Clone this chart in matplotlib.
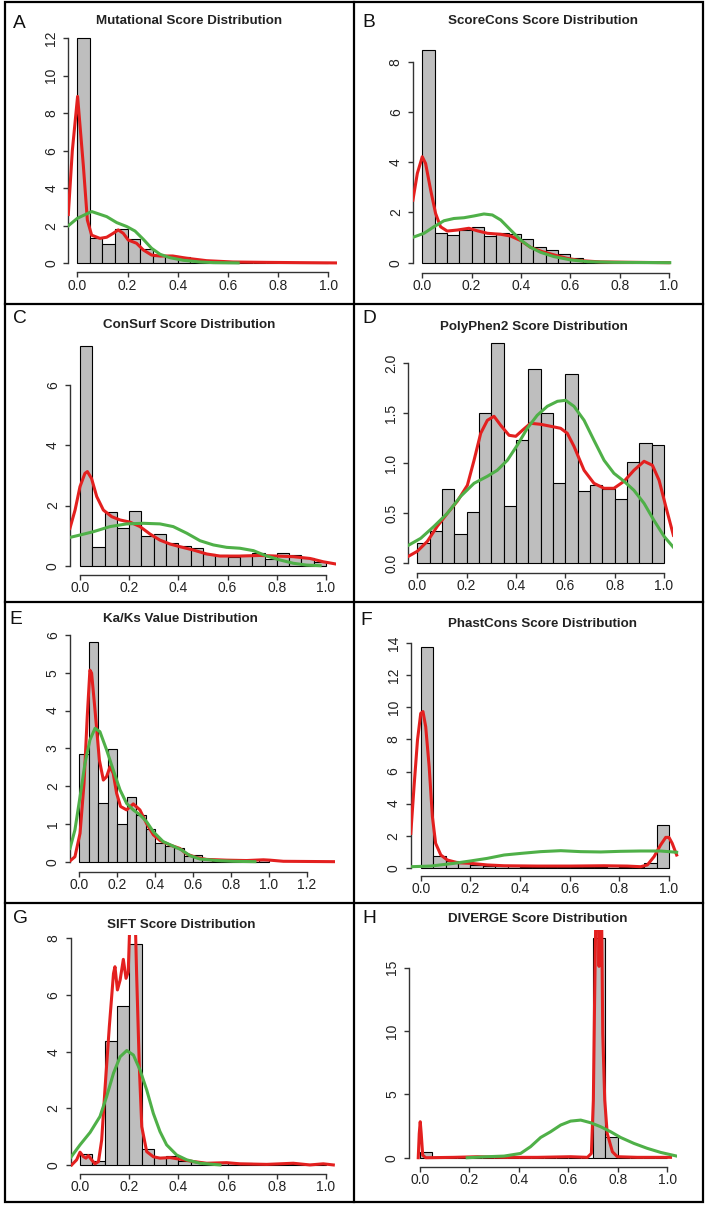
import matplotlib
matplotlib.use('Agg')
import matplotlib.pyplot as plt
from matplotlib.patches import Rectangle
from matplotlib.lines import Line2D

plt.rcParams['font.family'] = ['Liberation Sans', 'DejaVu Sans']

W, H = 708, 1206
RED = '#e3201f'
GREEN = '#4fb048'
GRAY = '#bebebe'

# left edges of the 0.05 wide histogram bins
bin_left = [0.00, 0.05, 0.10, 0.15, 0.20, 0.25, 0.30, 0.35, 0.40, 0.45,
            0.50, 0.55, 0.60, 0.65, 0.70, 0.75, 0.80, 0.85, 0.90, 0.95]

titles = ["Mutational Score Distribution", "ScoreCons Score Distribution",
          "ConSurf Score Distribution", "PolyPhen2 Score Distribution",
          "Ka/Ks Value Distribution", "PhastCons Score Distribution",
          "SIFT Score Distribution", "DIVERGE Score Distribution"]
letters = ["A", "B", "C", "D", "E", "F", "G", "H"]

# ---- A: mutational
mut_hist = [12.0, 1.35, 1.01, 1.81, 1.28, 0.76, 0.41, 0.39, 0.33, 0.18,
            0.10, 0.08, 0.05, 0.04, 0.03, 0.03, 0.02, 0.02, 0.01, 0.01]
mut_red_x = [-0.036, -0.02, 0.001, 0.024, 0.04, 0.057, 0.09, 0.117, 0.143, 0.163, 0.183, 0.203,
             0.236, 0.263, 0.296, 0.33, 0.38, 0.436, 0.515, 0.62, 0.754, 0.887, 1.037]
mut_red_y = [2.6, 6.0, 8.9, 5.2, 2.3, 1.5, 1.33, 1.39, 1.6, 1.78, 1.6, 1.24,
             1.07, 0.71, 0.44, 0.39, 0.39, 0.27, 0.14, 0.07, 0.05, 0.035, 0.02]
mut_green_x = [-0.036, 0.0, 0.057, 0.117, 0.157, 0.197, 0.23, 0.263, 0.296, 0.33,
               0.369, 0.422, 0.489, 0.542, 0.641]
mut_green_y = [2.0, 2.4, 2.76, 2.49, 2.17, 1.96, 1.72, 1.28, 0.8, 0.48,
               0.3, 0.16, 0.07, 0.036, 0.02]

# ---- B: ScoreCons
sc_hist = [8.49, 1.17, 1.10, 1.30, 1.41, 1.06, 1.17, 1.13, 0.94, 0.61,
           0.50, 0.33, 0.20, 0.08, 0.04, 0.02, 0.01, 0.01, 0.01, 0.01]
sc_red_x = [-0.038, -0.02, 0.0, 0.0135, 0.034, 0.054, 0.074, 0.101, 0.142, 0.189, 0.223, 0.264,
            0.318, 0.358, 0.399, 0.439, 0.486, 0.534, 0.588, 0.642, 0.723, 0.83, 1.0]
sc_red_y = [2.49, 3.56, 4.22, 3.95, 2.89, 1.96, 1.43, 1.26, 1.3, 1.37, 1.27, 1.17,
            1.13, 1.06, 0.88, 0.61, 0.44, 0.31, 0.17, 0.08, 0.03, 0.015, 0.0]
sc_green_x = [-0.038, 0.007, 0.047, 0.088, 0.128, 0.169, 0.209, 0.25, 0.284, 0.318,
              0.358, 0.399, 0.439, 0.48, 0.534, 0.601, 0.669, 0.777, 1.003]
sc_green_y = [1.01, 1.17, 1.43, 1.67, 1.76, 1.79, 1.86, 1.94, 1.9, 1.7,
              1.3, 0.9, 0.61, 0.41, 0.24, 0.11, 0.04, 0.013, 0.0]

# ---- C: ConSurf
cs_hist = [7.32, 0.63, 1.80, 1.26, 1.83, 0.99, 1.05, 0.74, 0.65, 0.58,
           0.39, 0.35, 0.30, 0.35, 0.43, 0.21, 0.43, 0.35, 0.27, 0.13]
cs_red_x = [-0.041, -0.02, 0.0, 0.02, 0.03, 0.047, 0.068, 0.095, 0.129, 0.163, 0.203, 0.244,
            0.285, 0.325, 0.366, 0.407, 0.461, 0.515, 0.569, 0.65, 0.732, 0.8, 0.867, 0.935,
            0.989, 1.037]
cs_red_y = [1.24, 1.85, 2.63, 3.07, 3.13, 2.9, 2.3, 1.85, 1.63, 1.52, 1.45, 1.3,
            1.05, 0.85, 0.72, 0.63, 0.52, 0.39, 0.32, 0.32, 0.34, 0.32, 0.3, 0.24,
            0.13, 0.06]
cs_green_x = [-0.041, 0.0, 0.054, 0.122, 0.19, 0.257, 0.325, 0.379, 0.434, 0.488,
              0.542, 0.596, 0.65, 0.705, 0.759, 0.813, 0.867, 0.921, 0.976]
cs_green_y = [0.94, 1.02, 1.13, 1.3, 1.39, 1.41, 1.39, 1.3, 1.08, 0.83,
              0.69, 0.61, 0.58, 0.5, 0.32, 0.19, 0.08, 0.02, 0.0]

# ---- D: PolyPhen2
pp_hist = [0.20, 0.32, 0.74, 0.29, 0.51, 1.50, 2.20, 0.57, 1.23, 1.94,
           1.50, 0.80, 1.89, 0.72, 0.78, 0.74, 0.64, 1.01, 1.20, 1.18]
pp_red_x = [-0.036, 0.0, 0.041, 0.081, 0.122, 0.162, 0.203, 0.23, 0.257, 0.284, 0.311, 0.338,
            0.372, 0.399, 0.426, 0.459, 0.5, 0.541, 0.581, 0.608, 0.635, 0.676, 0.716, 0.757,
            0.797, 0.838, 0.878, 0.919, 0.953, 0.98, 1.007, 1.038]
pp_red_y = [0.07, 0.12, 0.22, 0.37, 0.5, 0.62, 0.78, 1.03, 1.3, 1.43, 1.47, 1.38,
            1.28, 1.27, 1.33, 1.4, 1.39, 1.37, 1.35, 1.3, 1.17, 0.93, 0.8, 0.75,
            0.75, 0.82, 0.93, 1.02, 0.98, 0.83, 0.57, 0.28]
pp_green_x = [-0.036, 0.014, 0.068, 0.122, 0.176, 0.23, 0.284, 0.324, 0.365, 0.405, 0.446, 0.486,
              0.527, 0.568, 0.601, 0.635, 0.676, 0.716, 0.757, 0.797, 0.838, 0.878, 0.919,
              0.959, 1.0, 1.038]
pp_green_y = [0.18, 0.25, 0.37, 0.5, 0.67, 0.8, 0.87, 0.93, 1.03, 1.18, 1.35, 1.48,
              1.57, 1.62, 1.63, 1.57, 1.43, 1.23, 1.03, 0.9, 0.82, 0.73, 0.6,
              0.43, 0.27, 0.16]

# ---- E: Ka/Ks
kk_hist = [2.84, 5.82, 1.54, 2.97, 0.99, 1.70, 1.24, 0.86, 0.49, 0.41,
           0.35, 0.16, 0.18, 0.06, 0.03, 0.02, 0.01, 0.01, 0.0, 0.04]
kk_red_x = [-0.049, -0.023, 0.004, 0.025, 0.042, 0.056, 0.065, 0.083, 0.106, 0.127, 0.144, 0.162,
            0.179, 0.197, 0.218, 0.25, 0.285, 0.32, 0.355, 0.391, 0.426, 0.479, 0.531, 0.567,
            0.619, 0.672, 0.778, 0.883, 0.971, 1.007, 1.077, 1.35]
kk_red_y = [0.02, 0.13, 0.75, 2.07, 3.84, 5.07, 4.99, 4.01, 2.69, 2.16, 2.25, 2.51,
            2.34, 1.81, 1.46, 1.37, 1.53, 1.37, 1.01, 0.71, 0.56, 0.44, 0.35, 0.2,
            0.11, 0.06, 0.04, 0.03, 0.05, 0.04, 0.01, 0.0]
kk_green_x = [-0.049, -0.023, 0.004, 0.03, 0.056, 0.083, 0.109, 0.144, 0.179, 0.215, 0.25, 0.285,
              0.32, 0.355, 0.391, 0.443, 0.496, 0.54, 0.584, 0.637, 0.725, 0.813, 0.927]
kk_green_y = [0.35, 0.84, 1.72, 2.6, 3.22, 3.53, 3.44, 2.96, 2.43, 1.9, 1.54, 1.37,
              1.24, 1.06, 0.79, 0.53, 0.41, 0.31, 0.16, 0.07, 0.03, 0.01, 0.0]

# ---- F: PhastCons
pc_hist = [13.75, 0.73, 0.44, 0.27, 0.17, 0.10, 0.10, 0.08, 0.07, 0.07,
           0.06, 0.06, 0.06, 0.07, 0.07, 0.08, 0.07, 0.06, 0.27, 2.66]
pc_red_x = [-0.04, -0.027, -0.013, 0.0, 0.009, 0.02, 0.034, 0.047, 0.06, 0.081, 0.107, 0.148,
            0.201, 0.268, 0.336, 0.47, 0.604, 0.738, 0.832, 0.886, 0.913, 0.94, 0.966, 0.987,
            1.0, 1.013, 1.031]
pc_red_y = [2.14, 5.05, 7.97, 9.63, 9.74, 8.8, 6.3, 3.18, 1.52, 0.79, 0.48, 0.31,
            0.27, 0.17, 0.12, 0.1, 0.1, 0.12, 0.1, 0.06, 0.17, 0.69, 1.41, 1.89,
            1.89, 1.52, 0.79]
pc_green_x = [-0.04, 0.04, 0.134, 0.201, 0.268, 0.336, 0.403, 0.483, 0.564, 0.644, 0.725, 0.805,
              0.886, 0.966, 1.031]
pc_green_y = [0.06, 0.1, 0.27, 0.42, 0.58, 0.79, 0.89, 1.0, 1.06, 1.0, 0.98, 1.02,
              1.04, 1.04, 0.96]

# ---- G: SIFT
sf_hist = [0.39, 0.14, 4.38, 5.61, 7.79, 0.56, 0.27, 0.32, 0.14, 0.12,
           0.08, 0.06, 0.06, 0.06, 0.04, 0.03, 0.03, 0.03, 0.03, 0.03]
sf_red_x = [-0.034, -0.014, 0.0, 0.014, 0.024, 0.034, 0.047, 0.061, 0.075, 0.088, 0.102, 0.119,
            0.136, 0.142, 0.152, 0.163, 0.176, 0.187, 0.196, 0.206, 0.212, 0.218, 0.225, 0.23,
            0.241, 0.251, 0.271, 0.298, 0.325, 0.366, 0.407, 0.461, 0.515, 0.596, 0.65, 0.759,
            0.867, 0.935, 0.989, 1.03]
sf_red_y = [0.0, 0.18, 0.45, 0.29, 0.24, 0.33, 0.18, 0.04, 0.12, 0.88, 2.76, 4.88,
            6.76, 7.0, 6.18, 6.53, 7.26, 6.59, 6.82, 9.5, 10.0, 9.5, 8.5, 6.76,
            3.47, 1.35, 0.47, 0.29, 0.24, 0.26, 0.2, 0.12, 0.06, 0.08, 0.04, 0.02,
            0.06, 0.0, 0.04, 0.0]
sf_green_x = [-0.04, 0.0, 0.041, 0.081, 0.108, 0.136, 0.163, 0.19, 0.217, 0.244, 0.271, 0.298,
              0.325, 0.352, 0.393, 0.434, 0.488, 0.569]
sf_green_y = [0.24, 0.71, 1.15, 1.71, 2.41, 3.24, 3.82, 4.04, 3.88, 3.35, 2.65, 1.82,
              1.18, 0.71, 0.35, 0.18, 0.06, 0.0]

# ---- H: DIVERGE
dv_hist = [0.47, 0.0, 0.0, 0.0, 0.0, 0.0, 0.0, 0.0, 0.0, 0.0,
           0.0, 0.0, 0.0, 0.0, 17.37, 1.60, 0.0, 0.0, 0.0, 0.0]
dv_red_x = [-0.007, -0.003, 0.001, 0.005, 0.011, 0.023, 0.137, 0.232, 0.34, 0.474, 0.609, 0.677,
            0.693, 0.701, 0.706, 0.713, 0.721, 0.724, 0.728, 0.733, 0.739, 0.747, 0.757, 0.778,
            0.798, 0.879, 1.013]
dv_red_y = [0.0, 1.9, 2.84, 1.9, 0.2, 0.0, 0.03, 0.08, 0.03, 0.03, 0.08, 0.03,
            0.34, 4.55, 12.4, 22.0, 22.0, 15.1, 22.0, 22.0, 9.8, 4.55, 1.92, 0.47,
            0.08, 0.03, 0.03]
dv_green_x = [0.191, 0.272, 0.34, 0.407, 0.447, 0.488, 0.528, 0.569, 0.609, 0.65, 0.69, 0.73,
              0.771, 0.811, 0.865, 0.919, 0.973, 1.038]
dv_green_y = [0.0, 0.08, 0.13, 0.34, 0.87, 1.6, 2.05, 2.58, 2.89, 2.97, 2.76, 2.45,
              2.05, 1.6, 1.13, 0.74, 0.42, 0.13]

ticks_01 = [0.0, 0.2, 0.4, 0.6, 0.8, 1.0]
ticks_012 = [0.0, 0.2, 0.4, 0.6, 0.8, 1.0, 1.2]

panels = [
    dict(hist=mut_hist, red=(mut_red_x, mut_red_y), green=(mut_green_x, mut_green_y),
         xt=ticks_01, yt=[0, 2, 4, 6, 8, 10, 12], fmt='{:d}',
         rect=(68.3, 29.3, 337.3, 272.3), xlim=(-0.036, 1.036), ylim=(-0.48, 12.48),
         tpos=(189, 24), lpos=(13, 28.3)),
    dict(hist=sc_hist, red=(sc_red_x, sc_red_y), green=(sc_green_x, sc_green_y),
         xt=ticks_01, yt=[0, 2, 4, 6, 8], fmt='{:d}',
         rect=(412.9, 40.8, 678.4, 272.7), xlim=(-0.038, 1.038), ylim=(-0.4, 8.84),
         tpos=(542.8, 24), lpos=(362, 26.7)),
    dict(hist=cs_hist, red=(cs_red_x, cs_red_y), green=(cs_green_x, cs_green_y),
         xt=ticks_01, yt=[0, 2, 4, 6], fmt='{:d}',
         rect=(69.9, 336.6, 336.1, 575), xlim=(-0.041, 1.041), ylim=(-0.31, 7.62),
         tpos=(188.7, 328.3), lpos=(12.5, 322.7)),
    dict(hist=pp_hist, red=(pp_red_x, pp_red_y), green=(pp_green_x, pp_green_y),
         xt=ticks_01, yt=[0.0, 0.5, 1.0, 1.5, 2.0], fmt='{:.1f}',
         rect=(408.4, 334.3, 673.4, 572.7), xlim=(-0.036, 1.038), ylim=(-0.094, 2.29),
         tpos=(534, 330), lpos=(362, 322.7)),
    dict(hist=kk_hist, red=(kk_red_x, kk_red_y), green=(kk_green_x, kk_green_y),
         xt=ticks_012, yt=[0, 1, 2, 3, 4, 5, 6], fmt='{:d}',
         rect=(70, 631.2, 335.1, 871.5), xlim=(-0.049, 1.35), ylim=(-0.26, 6.1),
         tpos=(180.7, 621.7), lpos=(9, 624)),
    dict(hist=pc_hist, red=(pc_red_x, pc_red_y), green=(pc_green_x, pc_green_y),
         xt=ticks_01, yt=[0, 2, 4, 6, 8, 10, 12, 14], fmt='{:d}',
         rect=(410.8, 638.5, 678.9, 876), xlim=(-0.04, 1.04), ylim=(-0.52, 14.3),
         tpos=(542.3, 626.7), lpos=(360.5, 625)),
    dict(hist=sf_hist, red=(sf_red_x, sf_red_y), green=(sf_green_x, sf_green_y),
         xt=ticks_01, yt=[0, 2, 4, 6, 8], fmt='{:d}',
         rect=(70.7, 935, 335.3, 1174), xlim=(-0.038, 1.038), ylim=(-0.32, 8.12),
         tpos=(181.3, 928.3), lpos=(13, 923.3)),
    dict(hist=dv_hist, red=(dv_red_x, dv_red_y), green=(dv_green_x, dv_green_y),
         xt=ticks_01, yt=[0, 5, 10, 15], fmt='{:d}',
         rect=(409.1, 929.6, 677.2, 1166.6), xlim=(-0.044, 1.04), ylim=(-0.7, 18.0),
         tpos=(537.8, 921.7), lpos=(362, 922.7)),
]


def px_rect(l, t, r, b):
    return [l / W, 1 - b / H, (r - l) / W, (b - t) / H]


fig = plt.figure(figsize=(W / 100, H / 100), dpi=100)

for i, p in enumerate(panels):
    ax = fig.add_axes(px_rect(*p['rect']))
    ax.patch.set_visible(False)
    ax.bar(bin_left, p['hist'], width=0.05, align='edge', color=GRAY,
           edgecolor='black', linewidth=0.8, zorder=1)
    ax.plot(p['red'][0], p['red'][1], color=RED, lw=2.2, zorder=3)
    ax.plot(p['green'][0], p['green'][1], color=GREEN, lw=2.2, zorder=4)
    ax.set_xlim(*p['xlim'])
    ax.set_ylim(*p['ylim'])
    ax.spines['top'].set_visible(False)
    ax.spines['right'].set_visible(False)
    ax.spines['left'].set_bounds(p['yt'][0], p['yt'][-1])
    ax.spines['bottom'].set_bounds(p['xt'][0], p['xt'][-1])
    for s in ('left', 'bottom'):
        ax.spines[s].set_linewidth(1.0)
        ax.spines[s].set_color('#333333')
    ax.set_xticks(p['xt'], ['{:.1f}'.format(v) for v in p['xt']])
    ax.set_yticks(p['yt'], [p['fmt'].format(v) for v in p['yt']],
                  rotation=90, va='center')
    ax.tick_params(length=3.8, width=1.0, color='#333333', labelsize=10,
                   labelcolor='#222222')
    ax.tick_params(axis='x', pad=0.8)
    ax.tick_params(axis='y', pad=3.5)

    fig.text(p['tpos'][0] / W, 1 - p['tpos'][1] / H, titles[i], ha='center',
             va='baseline', fontsize=9.6, fontweight='bold', color='#222222')
    fig.text(p['lpos'][0] / W, 1 - p['lpos'][1] / H, letters[i], ha='left',
             va='baseline', fontsize=13.8, color='#111111')

# panel frame
fig.add_artist(Rectangle((5 / W, 1 - 1202 / H), 698 / W, 1200 / H,
                         transform=fig.transFigure, fill=False, lw=1.6,
                         edgecolor='black'))
fig.add_artist(Line2D([354 / W, 354 / W], [1 - 2 / H, 1 - 1202 / H],
                      transform=fig.transFigure, color='black', lw=1.6))
for yy in (304, 602, 903):
    fig.add_artist(Line2D([5 / W, 703 / W], [1 - yy / H, 1 - yy / H],
                          transform=fig.transFigure, color='black', lw=1.6))

fig.savefig('out.png', dpi=100)
